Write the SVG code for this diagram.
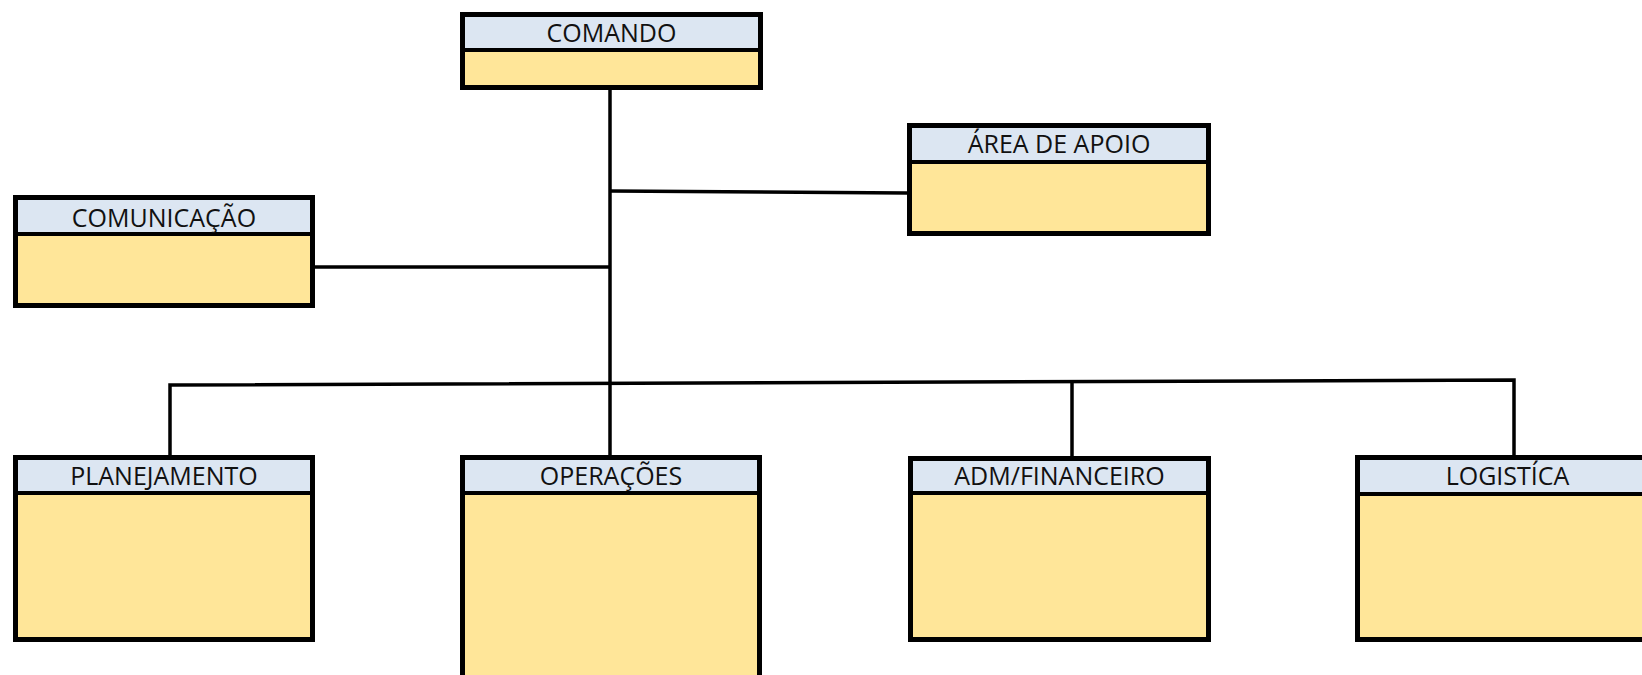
<svg xmlns="http://www.w3.org/2000/svg" width="1642" height="675" viewBox="0 0 1642 675">
<style>
.hd{fill:#DCE6F2;}
.bd{fill:#FFE699;}
.dv{stroke:#000;stroke-width:4;}
.ol{fill:none;stroke:#000;stroke-width:5;}
.lb{font-family:"Open Sans","Noto Sans",sans-serif;font-size:25px;fill:#111;text-anchor:middle;}
.cn{stroke:#000;stroke-width:3.5;fill:none;}
</style>
<rect width="1642" height="675" fill="#fff"/>
<g id="connectors">
<line class="cn" x1="610" y1="90" x2="610" y2="455"/>
<line class="cn" x1="610" y1="191" x2="907" y2="193"/>
<line class="cn" x1="315" y1="267" x2="610" y2="267"/>
<polyline class="cn" points="170,455 170,385 1514,380 1514,455"/>
<line class="cn" x1="1072" y1="382" x2="1072" y2="456"/>
</g>
<g id="comando">
<rect class="hd" x="460" y="12" width="303" height="38"/>
<rect class="bd" x="460" y="50" width="303" height="40"/>
<line class="dv" x1="460" y1="50" x2="763" y2="50"/>
<rect class="ol" x="462.5" y="14.5" width="298" height="73"/>
<text class="lb" x="611.5" y="42">COMANDO</text>
</g>
<g id="area-apoio">
<rect class="hd" x="907" y="123" width="304" height="39"/>
<rect class="bd" x="907" y="162" width="304" height="74"/>
<line class="dv" x1="907" y1="162" x2="1211" y2="162"/>
<rect class="ol" x="909.5" y="125.5" width="299" height="108"/>
<text class="lb" x="1059" y="153">ÁREA DE APOIO</text>
</g>
<g id="comunicacao">
<rect class="hd" x="13" y="195" width="302" height="39"/>
<rect class="bd" x="13" y="234" width="302" height="74"/>
<line class="dv" x1="13" y1="234" x2="315" y2="234"/>
<rect class="ol" x="15.5" y="197.5" width="297" height="108"/>
<text class="lb" x="164" y="227">COMUNICAÇÃO</text>
</g>
<g id="planejamento">
<rect class="hd" x="13" y="455" width="302" height="38"/>
<rect class="bd" x="13" y="493" width="302" height="149"/>
<line class="dv" x1="13" y1="493" x2="315" y2="493"/>
<rect class="ol" x="15.5" y="457.5" width="297" height="182"/>
<text class="lb" x="164" y="485">PLANEJAMENTO</text>
</g>
<g id="operacoes">
<rect class="hd" x="460" y="455" width="302" height="38"/>
<rect class="bd" x="460" y="493" width="302" height="197"/>
<line class="dv" x1="460" y1="493" x2="762" y2="493"/>
<rect class="ol" x="462.5" y="457.5" width="297" height="230"/>
<text class="lb" x="611" y="485">OPERAÇÕES</text>
</g>
<g id="adm-financeiro">
<rect class="hd" x="908" y="456" width="303" height="37"/>
<rect class="bd" x="908" y="493" width="303" height="149"/>
<line class="dv" x1="908" y1="493" x2="1211" y2="493"/>
<rect class="ol" x="910.5" y="458.5" width="298" height="181"/>
<text class="lb" x="1059.5" y="485">ADM/FINANCEIRO</text>
</g>
<g id="logistica">
<rect class="hd" x="1355" y="455" width="305" height="39"/>
<rect class="bd" x="1355" y="494" width="305" height="148"/>
<line class="dv" x1="1355" y1="494" x2="1660" y2="494"/>
<rect class="ol" x="1357.5" y="457.5" width="300" height="182"/>
<text class="lb" x="1507.5" y="485">LOGISTÍCA</text>
</g>
</svg>
